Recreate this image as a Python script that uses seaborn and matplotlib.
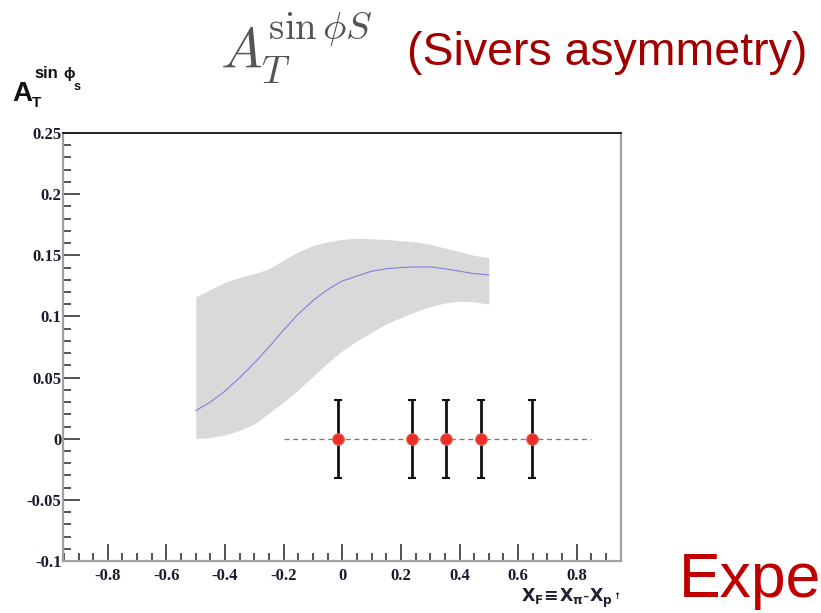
import numpy as np
import pandas as pd
import matplotlib
matplotlib.use("Agg")
import matplotlib.pyplot as plt
from matplotlib.ticker import MultipleLocator, FixedLocator
import seaborn as sns

# Theory curve: Sivers asymmetry vs x_F with its uncertainty band
xf_curve = [-0.5, -0.45, -0.4, -0.35, -0.3, -0.25, -0.2, -0.15, -0.1, -0.05, 0.0,
            0.05, 0.1, 0.15, 0.2, 0.25, 0.3, 0.35, 0.4, 0.45, 0.5]
a_central = [0.023, 0.030, 0.039, 0.050, 0.062, 0.075, 0.089, 0.102, 0.113, 0.122, 0.129,
             0.133, 0.137, 0.139, 0.140, 0.1405, 0.1405, 0.139, 0.137, 0.135, 0.134]
a_upper = [0.116, 0.122, 0.128, 0.132, 0.135, 0.139, 0.146, 0.153, 0.158, 0.161, 0.163,
           0.164, 0.1635, 0.163, 0.162, 0.161, 0.159, 0.156, 0.153, 0.150, 0.148]
a_lower = [0.0, 0.001, 0.003, 0.007, 0.012, 0.021, 0.030, 0.040, 0.051, 0.062, 0.072,
           0.080, 0.087, 0.094, 0.099, 0.104, 0.108, 0.111, 0.1125, 0.112, 0.110]

# Projected measurement points (centred at zero) with expected errors
xf_points = [-0.014, 0.237, 0.354, 0.472, 0.648]
a_points = [0.0, 0.0, 0.0, 0.0, 0.0]
a_errors = [0.032, 0.032, 0.032, 0.032, 0.032]

# Zero reference line span
zero_line_x = [-0.2, 0.85]

x_major = [-0.8, -0.6, -0.4, -0.2, 0, 0.2, 0.4, 0.6, 0.8]
x_labels = ["-0.8", "-0.6", "-0.4", "-0.2", "0", "0.2", "0.4", "0.6", "0.8"]
y_major = [-0.1, -0.05, 0, 0.05, 0.1, 0.15, 0.2, 0.25]
y_labels = ["-0.1", "-0.05", "0", "0.05", "0.1", "0.15", "0.2", "0.25"]

sns.set_theme(style="white")
plt.rcParams["font.family"] = ["Liberation Serif", "DejaVu Serif"]

W, H = 821, 613
fig = plt.figure(figsize=(W / 100, H / 100), dpi=100)
ax = fig.add_axes([0.0767, 0.0848, 0.6797, 0.6982])


def px(x, y):
    """Pixel position (from top-left) to figure fraction."""
    return x / W, 1 - y / H


curve = pd.DataFrame({"xf": xf_curve, "a": a_central, "lo": a_lower, "hi": a_upper})
pts = pd.DataFrame({"xf": xf_points, "a": a_points, "err": a_errors})

ax.fill_between(curve["xf"], curve["lo"], curve["hi"], color="#d9d9d9", lw=0, zorder=1)
sns.lineplot(data=curve, x="xf", y="a", ax=ax, color="#8080d8", lw=0.8, zorder=2)

ax.plot(zero_line_x, [0, 0], ls=(0, (4, 3)), color="#777777", lw=0.9, zorder=3)
ax.errorbar(pts["xf"], pts["a"], yerr=pts["err"], fmt="none", ecolor="#111111",
            elinewidth=2.0, capsize=3, capthick=1.5, zorder=4)
sns.scatterplot(data=pts, x="xf", y="a", ax=ax, color="#e8302a", s=70,
                edgecolor="#f06050", linewidth=0.8, zorder=5)

ax.set_xlim(-0.953, 0.951)
ax.set_ylim(-0.1, 0.25)
ax.xaxis.set_major_locator(FixedLocator(x_major))
ax.set_xticklabels(x_labels)
ax.xaxis.set_minor_locator(MultipleLocator(0.05))
ax.yaxis.set_major_locator(FixedLocator(y_major))
ax.set_yticklabels(y_labels)
ax.yaxis.set_minor_locator(MultipleLocator(0.01))

ax.tick_params(axis="both", which="both", direction="in", colors="#444444",
               labelcolor="#1a1a2a", labelsize=12, bottom=True, left=True,
               top=False, right=False)
ax.tick_params(axis="both", which="major", length=12, width=1.3)
ax.tick_params(axis="both", which="minor", length=6, width=1.3)
ax.tick_params(axis="x", which="major", pad=5)
ax.tick_params(axis="y", which="major", pad=1)
for lab in ax.get_xticklabels() + ax.get_yticklabels():
    lab.set_fontweight("bold")

for side in ["left", "bottom", "right"]:
    ax.spines[side].set_color("#a0a0a0")
    ax.spines[side].set_linewidth(1.6)
ax.spines["top"].set_color("#222222")
ax.spines["top"].set_linewidth(1.4)
ax.set_xlabel("")
ax.set_ylabel("")
if ax.get_legend() is not None:
    ax.get_legend().remove()

# Headline: asymmetry symbol and its name
fig.text(*px(220, 48), r"$A_T^{\sin\phi S}$", fontsize=40, color="#555555",
         ha="left", va="center", math_fontfamily="cm")
fig.text(*px(407, 53), "(Sivers asymmetry)", fontsize=33.5, color="#a00000",
         ha="left", va="center", family=["Liberation Sans", "DejaVu Sans"])

# Y-axis title, built from its pieces
sans_bold = dict(family=["Liberation Sans", "DejaVu Sans"], fontweight="bold",
                 color="#111111", va="baseline", ha="left")
fig.text(*px(12, 101), "A", fontsize=20, **sans_bold)
fig.text(*px(32, 107), "T", fontsize=11, **sans_bold)
fig.text(*px(34, 78), "sin", fontsize=12, **sans_bold)
fig.text(*px(63, 78), "\u03d5", fontsize=11, **sans_bold)
fig.text(*px(74, 90), "s", fontsize=9, **sans_bold)

# X-axis title
fig.text(*px(621, 598), r"$\mathbf{X_F\!\equiv\!X_\pi\text{-}X_{p^\uparrow}}$", fontsize=12.5,
         color="#222233", ha="right", va="center", math_fontfamily="dejavusans")

fig.text(*px(821, 580), "Expe", fontsize=45, color="#c00000", ha="right", va="center",
         family=["Liberation Sans", "DejaVu Sans"])

fig.savefig("out.png", dpi=100, facecolor="white")
